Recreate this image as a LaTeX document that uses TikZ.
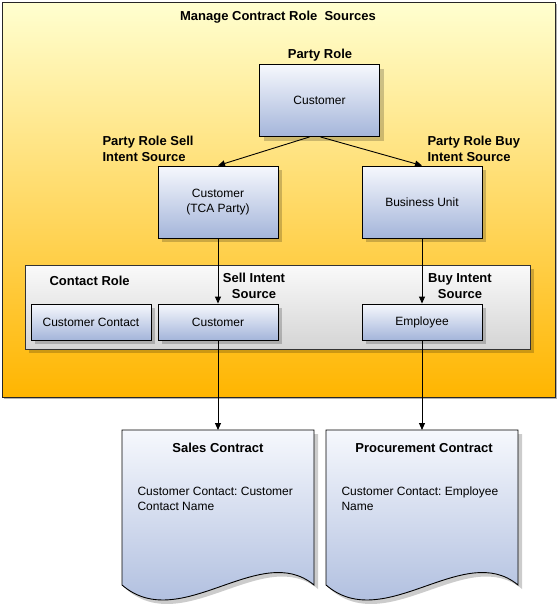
\documentclass[tikz,border=0pt]{standalone}
\usepackage{fontspec}
\setmainfont{Liberation Sans}
\frenchspacing
\usetikzlibrary{shadows,arrows.meta}
\definecolor{outtop}{RGB}{255,255,208}
\definecolor{outbot}{RGB}{255,181,0}
\definecolor{bluetop}{RGB}{246,248,253}
\definecolor{bluebot}{RGB}{164,181,218}
\definecolor{graytop}{RGB}{250,250,250}
\definecolor{graybot}{RGB}{212,212,212}
\tikzset{
  reg/.style={font=\fontsize{12}{15}\selectfont},
  bld/.style={font=\bfseries\fontsize{13}{16}\selectfont},
  shad/.style={drop shadow={shadow xshift=4pt,shadow yshift=-4pt,fill=black,opacity=0.2}},
  bluebox/.style={draw=black,line width=0.9pt,top color=bluetop,bottom color=bluebot,shad,minimum width=120pt,inner sep=0pt,reg,align=center},
  graybox/.style={draw=black!80,line width=0.8pt,top color=graytop,bottom color=graybot,shad,inner sep=0pt},
  outerbox/.style={draw=black!85,line width=0.9pt,top color=outtop,bottom color=outbot,drop shadow={shadow xshift=2pt,shadow yshift=-2pt,fill=black,opacity=0.3},inner sep=0pt},
  docshape/.style={draw=black,line width=0.9pt,top color=bluetop,bottom color=bluebot,shad},
  arr/.style={draw=black,line width=0.9pt,-{Triangle[length=7pt,width=6pt]}},
}
\begin{document}
\begin{tikzpicture}[x=1pt,y=-1pt]
\useasboundingbox (0,0) rectangle (558,606);
% outer box
\node[outerbox,minimum width=553pt,minimum height=395pt] (outer) at (278.5,199.5) {};
\node[bld] (title) at (278,17) {Manage Contract Role\ \ Sources};
% party role
\node[bld] (prlabel) at (320,55) {Party Role};
\node[bluebox,minimum height=72pt] (top) at (319.5,100.5) {Customer};
\node[bld,anchor=west,align=left] (selllbl) at (99,149) {Party Role Sell\\Intent Source};
\node[bld,anchor=west,align=left] (buylbl) at (424,149) {Party Role Buy\\Intent Source};
\node[bluebox,minimum height=72pt] (tca) at (218,202) {Customer\\(TCA Party)};
\node[bluebox,minimum height=72pt] (bu) at (422,202) {Business Unit};
% contact role
\node[graybox,minimum width=505pt,minimum height=84pt] (crbox) at (277.5,307) {};
\node[bld,anchor=west] (crlabel) at (46,281) {Contact Role};
\node[bld,align=center] (sellint) at (254,286) {Sell Intent\\Source};
\node[bld,align=center] (buyint) at (460,286) {Buy Intent\\Source};
\node[bluebox,minimum height=36pt] (cc) at (91,322) {Customer Contact};
\node[bluebox,minimum height=36pt] (cust) at (218,322) {Customer};
\node[bluebox,minimum height=36pt] (emp) at (422,322) {Employee};
% documents
\path[docshape] (122,430) -- (314,430) -- (314,585) .. controls (260,540) and (180,635) .. (122,585) -- cycle;
\path[docshape] (326,430) -- (518,430) -- (518,585) .. controls (464,540) and (384,635) .. (326,585) -- cycle;
\coordinate (salestop) at (218,430);
\coordinate (proctop) at (422,430);
\node[bld] (salestitle) at (218,448) {Sales Contract};
\node[reg,anchor=west,align=left] (salestext) at (134,499) {Customer Contact: Customer\\Contact Name};
\node[bld] (proctitle) at (424,448) {Procurement Contract};
\node[reg,anchor=west,align=left] (proctext) at (338,499) {Customer Contact: Employee\\Name};
% connectors
\draw[arr] ([xshift=-10pt]top.south) -- (tca.north);
\draw[arr] ([xshift=1pt]top.south) -- (bu.north);
\draw[arr] (tca.south) -- (cust.north);
\draw[arr] (bu.south) -- (emp.north);
\draw[arr] (cust.south) -- (salestop);
\draw[arr] (emp.south) -- (proctop);
\end{tikzpicture}
\end{document}
